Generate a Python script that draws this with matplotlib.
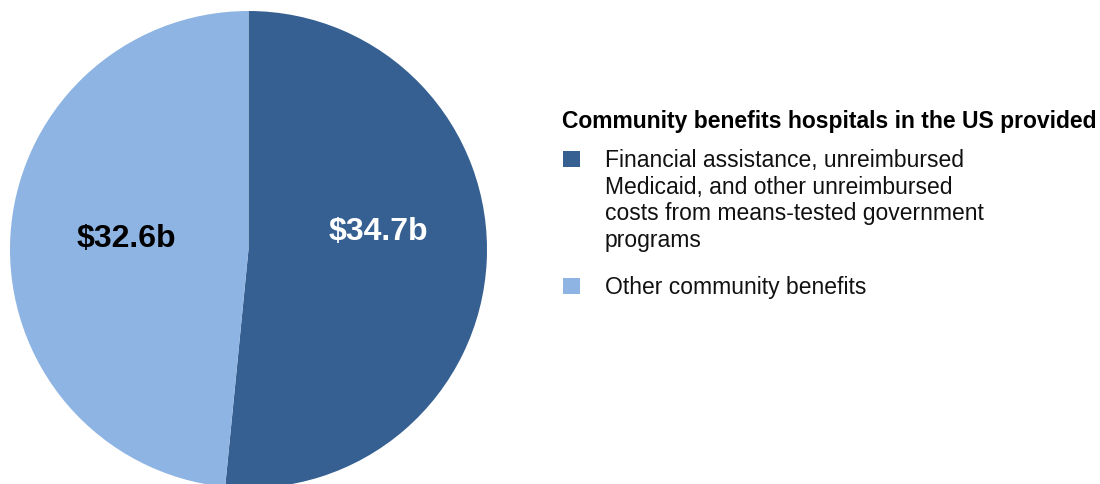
import matplotlib
matplotlib.use("Agg")
from matplotlib import pyplot as plt
from matplotlib.patches import Rectangle

# data
values = [34.7, 32.6]
value_labels = ["$34.7b", "$32.6b"]
legend_labels = ["Financial assistance, unreimbursed\nMedicaid, and other unreimbursed\ncosts from means-tested government\nprograms",
                 "Other community benefits"]
legend_title = "Community benefits hospitals in the US provided"
colors = ["#366092", "#8EB4E3"]
label_colors = ["white", "black"]

plt.rcParams['font.family'] = ['Liberation Sans', 'DejaVu Sans']

W, H = 1100, 485
fig = plt.figure(figsize=(W / 100, H / 100), dpi=100)

def fx(px):
    return px / W

def fy(py):
    return 1 - py / H

# pie axes, square in pixels (centre 248.5, 250.5, radius 238.5)
cx, cy, r = 248.5, 250.5, 238.5
ax = fig.add_axes([fx(cx - r), fy(cy + r), 2 * r / W, 2 * r / H])
wedges, _ = ax.pie(values, colors=colors, startangle=90, counterclock=False,
                   radius=1, wedgeprops=dict(linewidth=0))
ax.set_xlim(-1, 1)
ax.set_ylim(-1, 1)
ax.set_aspect('equal')
ax.axis('off')

# value labels (baseline positions) in data coords of the pie
label_pos = [((378.5 - cx) / r, (cy - 240) / r), ((126.5 - cx) / r, (cy - 247) / r)]
for (x, y), txt, c in zip(label_pos, value_labels, label_colors):
    ax.text(x, y, txt, color=c, fontsize=23, fontweight='bold', ha='center', va='baseline')

# legend drawn by hand
fig.text(fx(562), fy(128), legend_title, fontsize=16.5, fontweight='bold',
         ha='left', va='baseline', color='black')

rows = [167, 294]
for yb, lab, c in zip(rows, legend_labels, colors):
    fig.patches.append(Rectangle((fx(563), fy(yb + 1)), 17 / W, 16 / H, transform=fig.transFigure,
                                 facecolor=c, edgecolor='none'))
    for i, line in enumerate(lab.split("\n")):
        fig.text(fx(605), fy(yb + i * 26.6), line, fontsize=16.5, ha='left', va='baseline', color='#111111')

fig.savefig("out.png", dpi=100)
